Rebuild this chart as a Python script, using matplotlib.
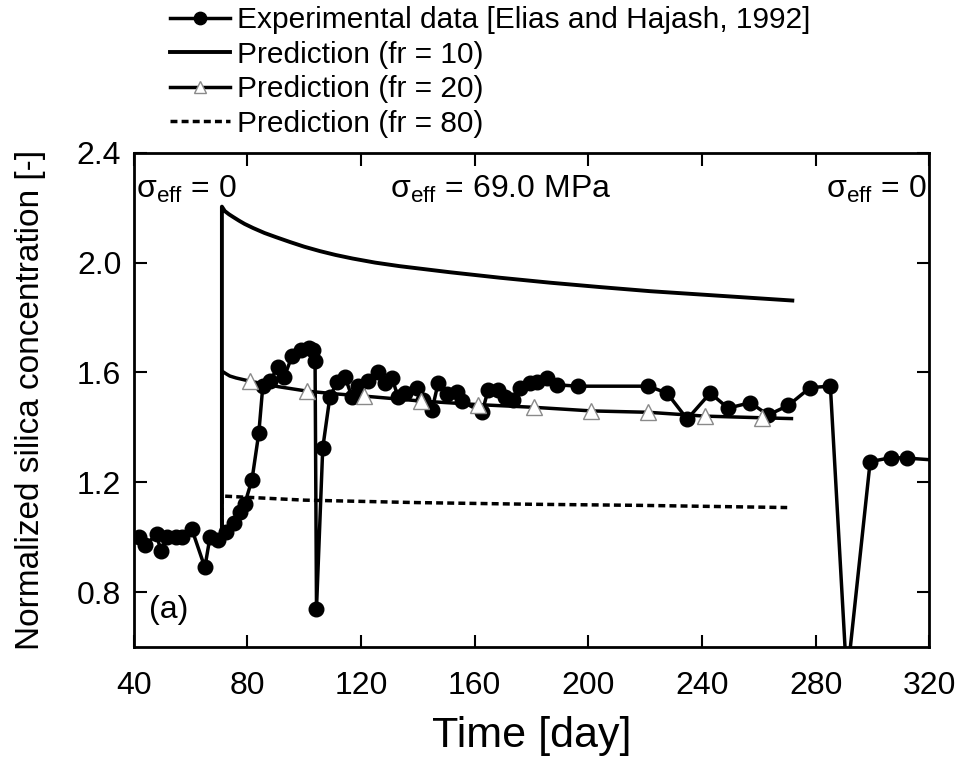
import matplotlib
matplotlib.use("Agg")
import matplotlib.pyplot as plt

plt.rcParams['font.family'] = ['Liberation Sans', 'DejaVu Sans']
plt.rcParams['mathtext.fontset'] = 'custom'
plt.rcParams['mathtext.rm'] = 'Liberation Sans'
plt.rcParams['mathtext.it'] = 'Liberation Sans:italic'
plt.rcParams['mathtext.bf'] = 'Liberation Sans:bold'

# Experimental data [Elias and Hajash, 1992]
exp_day = [41.8, 43.9, 48.0, 49.5, 51.6, 54.8, 57.0, 60.4, 65.0, 66.8, 69.6, 72.4,
           75.2, 77.3, 79.0, 81.6, 84.0, 85.4, 88.0, 90.7, 93.0, 95.7, 99.0, 101.5,
           103.0, 103.8, 104.3, 106.5, 109.0, 111.5, 114.3, 116.8, 118.9, 122.4,
           125.9, 128.4, 130.9, 133.0, 135.5, 139.7, 141.8, 145.0, 147.1, 150.3,
           153.8, 155.5, 162.6, 164.7, 168.2, 170.7, 173.5, 176.0, 179.5, 182.0,
           185.5, 189.0, 196.4, 221.1, 227.7, 234.8, 242.9, 249.2, 257.0, 263.3,
           270.4, 278.1, 285.2, 291.0, 299.2, 306.6, 312.3, 330.0]
exp_conc = [1.00, 0.97, 1.01, 0.95, 1.00, 1.00, 1.00, 1.03, 0.89, 1.00, 0.99, 1.02,
            1.05, 1.09, 1.12, 1.21, 1.38, 1.55, 1.57, 1.62, 1.585, 1.66, 1.68, 1.69,
            1.68, 1.64, 0.74, 1.325, 1.51, 1.565, 1.585, 1.51, 1.55, 1.57,
            1.60, 1.56, 1.58, 1.51, 1.525, 1.545, 1.50, 1.465, 1.56, 1.52,
            1.53, 1.495, 1.455, 1.535, 1.535, 1.51, 1.50, 1.545, 1.56, 1.565,
            1.58, 1.555, 1.55, 1.55, 1.525, 1.43, 1.525, 1.47, 1.49, 1.445,
            1.48, 1.545, 1.55, 0.48, 1.275, 1.29, 1.288, 1.275]

# Prediction (fr = 10)
fr10_day = [71.0, 71.0, 72.0, 73.5, 75.0, 77.0, 79.0, 82.0, 86.0, 90.0, 95.0, 100.0,
            105.5, 111.0, 117.0, 125.0, 133.7, 151.3, 168.9, 186.5, 204.1, 221.8,
            239.4, 257.0, 271.8]
fr10_conc = [1.0, 2.204, 2.188, 2.176, 2.166, 2.153, 2.141, 2.126, 2.108, 2.093, 2.075,
             2.058, 2.042, 2.028, 2.015, 2.0, 1.987, 1.965, 1.945, 1.927, 1.911, 1.896,
             1.884, 1.872, 1.862]

# Prediction (fr = 20)
fr20_day = [71.0, 71.0, 72.5, 73.8, 76.0, 81.0, 91.0, 101.0, 111.0, 121.0, 141.0,
            161.0, 181.0, 201.0, 221.0, 241.0, 261.0, 271.5]
fr20_conc = [1.0, 1.605, 1.595, 1.587, 1.58, 1.568, 1.548, 1.532, 1.522, 1.514,
             1.496, 1.483, 1.473, 1.46, 1.455, 1.441, 1.435, 1.432]
fr20_marker_days = [81.0, 101.0, 121.0, 141.0, 161.0, 181.0, 201.0, 221.0, 241.0, 261.0]

# Prediction (fr = 80)
fr80_day = [71.0, 71.0, 100.0, 140.0, 180.0, 218.0, 270.0]
fr80_conc = [1.0, 1.15, 1.135, 1.126, 1.12, 1.116, 1.108]

x_ticks = [40, 80, 120, 160, 200, 240, 280, 320]
y_ticks = [0.8, 1.2, 1.6, 2.0, 2.4]

fig = plt.figure(figsize=(9.56, 7.58), dpi=100)
ax = fig.add_axes([0.140, 0.1464, 0.832, 0.652])

h_exp, = ax.plot(exp_day, exp_conc, color='black', lw=2.5, marker='o', ms=10.5,
                 mfc='black', mec='black', label='Experimental data [Elias and Hajash, 1992]')
h10, = ax.plot(fr10_day, fr10_conc, color='black', lw=2.8, label='Prediction (fr = 10)')
mark_idx = [fr20_day.index(d) for d in fr20_marker_days]
h20, = ax.plot(fr20_day, fr20_conc, color='black', lw=2.5, marker='^', ms=11,
               mfc='white', mec='#8a8a8a', mew=1.0, markevery=mark_idx,
               label='Prediction (fr = 20)')
h80, = ax.plot(fr80_day, fr80_conc, color='black', lw=2.5, ls=(0, (2, 1.2)),
               label='Prediction (fr = 80)')

ax.set_xlim(40, 320)
ax.set_ylim(0.6, 2.4)
ax.set_xticks(x_ticks)
ax.set_yticks(y_ticks)
ax.set_yticklabels([f"{v:.1f}" for v in y_ticks])
ax.tick_params(direction='in', length=9, width=1.5, top=True, right=True,
               labelsize=23)
ax.tick_params(axis='x', pad=17)
ax.tick_params(axis='y', pad=9)
for s in ax.spines.values():
    s.set_linewidth(2)

ax.set_xlabel('Time [day]', fontsize=31, labelpad=11)
ax.set_ylabel('Normalized silica concentration [-]', fontsize=24, labelpad=22)

tfs = 23
ax.text(40.8, 2.268, r'$\mathrm{σ}_{\mathrm{eff}}$ = 0', fontsize=tfs, ha='left', va='center')
ax.text(169, 2.268, r'$\mathrm{σ}_{\mathrm{eff}}$ = 69.0 MPa', fontsize=tfs, ha='center', va='center')
ax.text(319.3, 2.268, r'$\mathrm{σ}_{\mathrm{eff}}$ = 0', fontsize=tfs, ha='right', va='center')
ax.text(45.5, 0.735, '(a)', fontsize=tfs, ha='left', va='center')

fig.legend(handles=[h_exp, h10, h20, h80], loc='upper left',
           bbox_to_anchor=(170 / 956, 1 - 6 / 758), frameon=False, fontsize=21.5,
           borderpad=0, borderaxespad=0, handlelength=2.0, handletextpad=0.25,
           labelspacing=0.22, numpoints=1, markerscale=0.85)

fig.savefig('out.png', dpi=100)
